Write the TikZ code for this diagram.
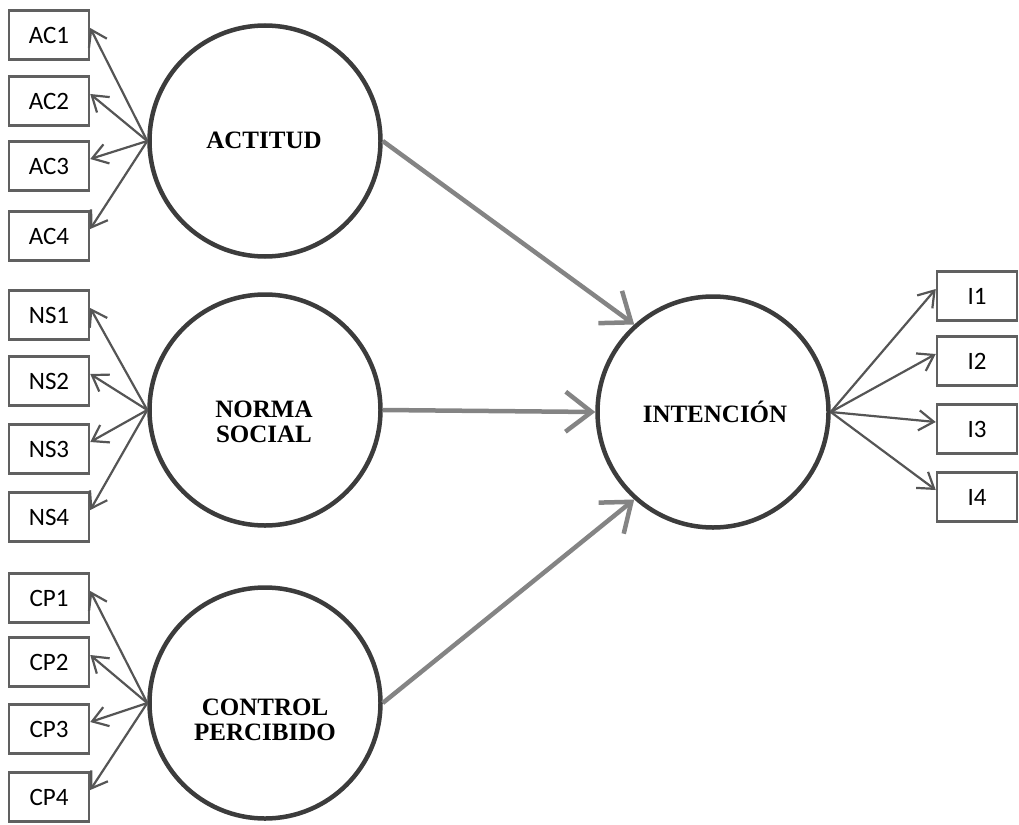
\documentclass[tikz,border=0pt]{standalone}
\usepackage{fontspec}
\setmainfont{Liberation Serif}
\newfontfamily\boxfont{Carlito}
\usetikzlibrary{arrows.meta}
\definecolor{circcol}{HTML}{3C3C3C}
\definecolor{smallcol}{HTML}{555555}
\definecolor{bigcol}{HTML}{848484}
\definecolor{boxcol}{HTML}{606060}
\tikzset{
  indbox/.style={draw=boxcol, line width=2.5pt, minimum width=80pt, minimum height=49pt, inner sep=0pt, font=\boxfont\fontsize{25}{27}\selectfont},
  latent/.style={draw=circcol, line width=4.5pt, circle, minimum size=231pt, inner sep=0pt},
  lattext/.style={font=\bfseries\fontsize{25}{25}\selectfont, align=center, inner sep=0pt},
  smallarr/.style={draw=smallcol, line width=2.2pt, -{Straight Barb[length=15pt,width=20pt,line width=2.2pt]}},
  bigarr/.style={draw=bigcol, line width=4.5pt, -{Straight Barb[length=26pt,width=40pt,line width=4.5pt]}},
}
\begin{document}
\begin{tikzpicture}[x=1pt,y=-1pt]
\useasboundingbox (0,0) rectangle (1019,824);
% latent variables
\node[latent] (ACT) at (265,141) {};
\node[latent] (NOR) at (265,410) {};
\node[latent] (CON) at (265,703) {};
\node[latent] (INT) at (713,412) {};
\node[lattext] (ACTt) at (264,140) {ACTITUD};
\node[lattext] (NORt) at (264,422) {NORMA\\SOCIAL};
\node[lattext] (CONt) at (265,720) {CONTROL\\PERCIBIDO};
\node[lattext] (INTt) at (715,412) {INTENCIÓN};
% indicator boxes
\node[indbox] (AC1) at (49,35) {AC1};
\node[indbox] (AC2) at (49,101) {AC2};
\node[indbox] (AC3) at (49,166) {AC3};
\node[indbox] (AC4) at (49,236) {AC4};
\node[indbox] (NS1) at (49,315) {NS1};
\node[indbox] (NS2) at (49,381) {NS2};
\node[indbox] (NS3) at (49,449) {NS3};
\node[indbox] (NS4) at (49,517) {NS4};
\node[indbox] (CP1) at (49,598) {CP1};
\node[indbox] (CP2) at (49,662) {CP2};
\node[indbox] (CP3) at (49,729) {CP3};
\node[indbox] (CP4) at (49,797) {CP4};
\node[indbox] (I1) at (977,296) {I1};
\node[indbox] (I2) at (977,361) {I2};
\node[indbox] (I3) at (977,429) {I3};
\node[indbox] (I4) at (977,497) {I4};
% small arrows
\foreach \b in {AC1,AC2,AC3,AC4} \draw[smallarr] (ACT.west) -- ([yshift=7pt]\b.east);
\foreach \b in {NS1,NS2,NS3,NS4} \draw[smallarr] (NOR.west) -- ([yshift=7pt]\b.east);
\foreach \b in {CP1,CP2,CP3,CP4} \draw[smallarr] (CON.west) -- ([yshift=7pt]\b.east);
\foreach \b in {I1,I2,I3,I4} \draw[smallarr] (INT.east) -- ([yshift=7pt]\b.west);
% structural arrows
\draw[bigarr] (ACT.east) -- (INT.132);
\draw[bigarr] (NOR.east) -- (INT.west);
\draw[bigarr] (CON.east) -- (INT.228);
\end{tikzpicture}
\end{document}
